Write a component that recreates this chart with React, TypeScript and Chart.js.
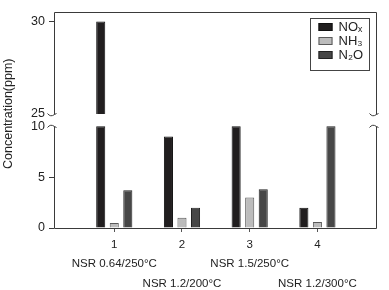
import React, { useEffect, useRef } from 'react';
import { Chart, registerables } from 'chart.js';

Chart.register(...registerables);

// ---- data ----
const categories = [1, 2, 3, 4];
const conditionLabels = ['NSR 0.64/250°C', 'NSR 1.2/200°C', 'NSR 1.5/250°C', 'NSR 1.2/300°C'];
const seriesNames = ['NOₓ', 'NH₃', 'N₂O'];
const noxValues = [30, 9, 10, 2];
const nh3Values = [0.5, 1, 3, 0.6];
const n2oValues = [3.7, 2, 3.8, 10];
const lowerTicks = [0, 5, 10];
const upperTicks = [25, 30];
const breakLow = 10;
const breakHigh = 25;
const yTitle = 'Concentration(ppm)';

const FONT = '"Liberation Sans", Arial, Helvetica, sans-serif';
const fills = ['#211e1f', '#bcbcbc', '#474747'];
const borders = ['#111111', '#5a5a5a', '#222222'];
const stackKeys = ['nox', 'nh3', 'n2o'];
const seriesValues = [noxValues, nh3Values, n2oValues];

const frameAndExtras = {
  id: 'frameAndExtras',
  afterDraw(chart: any) {
    const { ctx, chartArea } = chart;
    const { left, right, top, bottom } = chartArea;
    const yH = chart.scales.yHigh;
    const yL = chart.scales.yLow;
    const p25 = Math.round(yH.getPixelForValue(breakHigh)) + 0.5;
    const p10 = Math.round(yL.getPixelForValue(breakLow)) + 0.5;
    const L = Math.round(left) + 0.5;
    const R = Math.round(right) - 0.5;
    const T = Math.round(top) + 0.5;
    const B = Math.round(bottom) + 0.5;
    ctx.save();
    ctx.strokeStyle = '#3a3a3a';
    ctx.lineWidth = 1;
    ctx.beginPath();
    ctx.moveTo(L, p25);
    ctx.lineTo(L, T);
    ctx.lineTo(R, T);
    ctx.lineTo(R, p25);
    ctx.moveTo(L, p10);
    ctx.lineTo(L, B);
    ctx.lineTo(R, B);
    ctx.lineTo(R, p10);
    ctx.stroke();
    // break marks
    for (const x of [L, R]) {
      ctx.beginPath();
      ctx.moveTo(x - 7, p25 - 1);
      ctx.quadraticCurveTo(x - 4, p25 + 3, x, p25);
      ctx.lineTo(x + 2, p25 - 1);
      ctx.stroke();
      ctx.beginPath();
      ctx.moveTo(x - 7, p10 + 1);
      ctx.quadraticCurveTo(x - 4, p10 - 3, x, p10);
      ctx.lineTo(x + 2, p10 + 1);
      ctx.stroke();
    }
    // y title
    ctx.fillStyle = '#222';
    ctx.font = `12.5px ${FONT}`;
    ctx.textAlign = 'center';
    ctx.textBaseline = 'middle';
    ctx.translate(9, (top + bottom) / 2 - 6);
    ctx.rotate(-Math.PI / 2);
    ctx.fillText(yTitle, 0, 0);
    ctx.restore();

    // legend
    ctx.save();
    const bx = Math.round(right) - 66.5;
    const by = Math.round(top) + 6.5;
    const bw = 59;
    const bh = 52;
    ctx.fillStyle = '#fff';
    ctx.fillRect(bx, by, bw, bh);
    ctx.strokeStyle = '#444';
    ctx.lineWidth = 1;
    ctx.strokeRect(bx, by, bw, bh);
    ctx.font = `13px ${FONT}`;
    ctx.textAlign = 'left';
    ctx.textBaseline = 'middle';
    seriesNames.forEach((name, i) => {
      const cy = by + 8.5 + i * 14;
      ctx.fillStyle = fills[i];
      ctx.fillRect(bx + 8, cy - 4, 14, 8);
      ctx.strokeStyle = borders[i];
      ctx.strokeRect(bx + 8.5, cy - 3.5, 13, 7);
      ctx.fillStyle = '#222';
      ctx.fillText(name, bx + 28, cy + 0.5);
    });
    ctx.restore();
  },
};

export default function App() {
  const canvasRef = useRef<HTMLCanvasElement | null>(null);

  useEffect(() => {
    if (!canvasRef.current) return;
    const lowDatasets = seriesValues.map((vals, s) => ({
      type: 'bar' as const,
      label: seriesNames[s],
      data: categories.map((c, i) => ({ x: c, y: Math.min(vals[i], breakLow) })),
      yAxisID: 'yLow',
      stack: stackKeys[s],
      backgroundColor: fills[s],
      borderColor: borders[s],
      borderWidth: 1,
      categoryPercentage: 0.6,
      barPercentage: 0.67,
    }));
    const highDatasets = seriesValues
      .map((vals, s) => ({
        type: 'bar' as const,
        label: seriesNames[s] + ' (upper)',
        data: categories.map((c, i) => ({ x: c, y: vals[i] > breakHigh ? [breakHigh, vals[i]] : null })),
        yAxisID: 'yHigh',
        stack: stackKeys[s],
        backgroundColor: fills[s],
        borderColor: borders[s],
        borderWidth: 1,
        categoryPercentage: 0.6,
        barPercentage: 0.67,
      }))
      .filter((d) => d.data.some((p) => p.y !== null));

    const tickColor = (ctx: any) =>
      ctx.tick && (ctx.tick.value === breakLow || ctx.tick.value === breakHigh) ? 'rgba(0,0,0,0)' : '#3a3a3a';

    const chart = new Chart(canvasRef.current, {
      type: 'bar',
      data: { datasets: [...lowDatasets, ...highDatasets] as any },
      options: {
        animation: false,
        responsive: true,
        maintainAspectRatio: false,
        layout: { padding: { top: 6, right: 12, left: 0, bottom: 0 } },
        plugins: { legend: { display: false }, tooltip: { enabled: false } },
        scales: {
          x: {
            type: 'linear',
            min: 0.11,
            max: 4.88,
            offset: false,
            border: { display: false },
            grid: { offset: false, drawOnChartArea: false, drawTicks: true, tickLength: 4, tickColor: '#555' },
            afterBuildTicks: (scale: any) => {
              scale.ticks = categories.map((v) => ({ value: v }));
            },
            afterFit: (scale: any) => {
              scale.height = 62;
            },
            ticks: {
              autoSkip: false,
              maxRotation: 0,
              minRotation: 0,
              padding: 3,
              color: '#222',
              font: { family: FONT, size: 11.5, lineHeight: 1.7 },
              callback: (value: any) => {
                const i = categories.indexOf(Number(value));
                if (i < 0) return '';
                return i % 2 === 0
                  ? [String(categories[i]), conditionLabels[i]]
                  : [String(categories[i]), '', conditionLabels[i]];
              },
            },
          },
          yLow: {
            type: 'linear',
            position: 'left',
            stack: 'v',
            stackWeight: 116.7,
            stacked: false,
            min: 0,
            max: 11.2,
            border: { display: false },
            grid: { drawOnChartArea: false, drawTicks: true, tickLength: 5, tickColor },
            afterBuildTicks: (scale: any) => {
              scale.ticks = lowerTicks.map((v) => ({ value: v }));
            },
            afterFit: (scale: any) => {
              scale.width = 54;
            },
            ticks: { padding: 4, color: '#222', font: { family: FONT, size: 12.5 } },
          },
          yHigh: {
            type: 'linear',
            position: 'left',
            stack: 'v',
            stackWeight: 105,
            stacked: false,
            min: breakHigh,
            max: 30.54,
            border: { display: false },
            grid: { drawOnChartArea: false, drawTicks: true, tickLength: 5, tickColor },
            afterBuildTicks: (scale: any) => {
              scale.ticks = upperTicks.map((v) => ({ value: v }));
            },
            afterFit: (scale: any) => {
              scale.width = 54;
            },
            ticks: { padding: 4, color: '#222', font: { family: FONT, size: 12.5 } },
          },
        },
      } as any,
      plugins: [frameAndExtras],
    });
    return () => chart.destroy();
  }, []);

  return (
    <div style={{ position: 'fixed', left: 0, top: 0, width: 389, height: 290, background: '#fff' }}>
      <canvas ref={canvasRef} />
    </div>
  );
}
